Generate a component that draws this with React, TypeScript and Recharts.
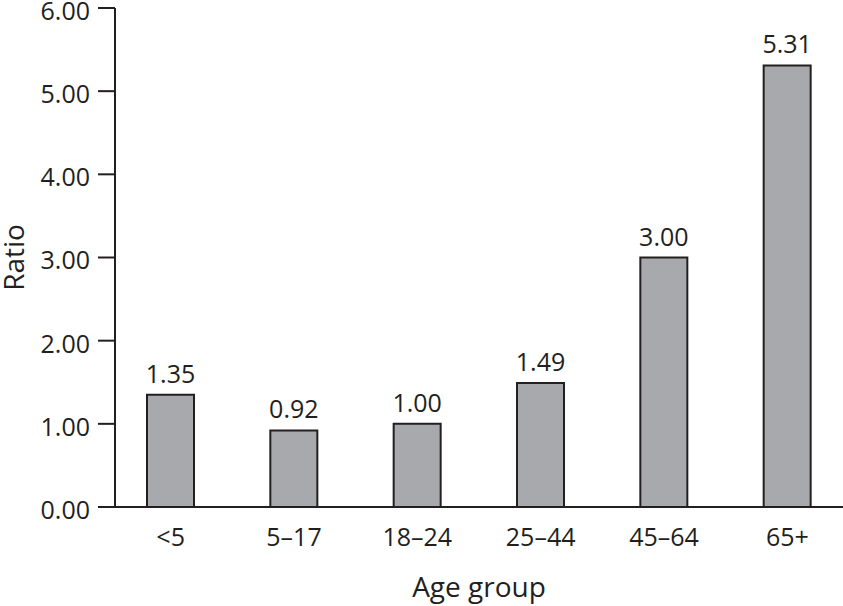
import React from 'react';
import { BarChart, Bar, XAxis, YAxis, LabelList } from 'recharts';

const ageGroups = ['<5', '5–17', '18–24', '25–44', '45–64', '65+'];
const ratios = [1.35, 0.92, 1.0, 1.49, 3.0, 5.31];
const yTicks = [0, 1, 2, 3, 4, 5, 6];

const data = ageGroups.map((group, i) => ({ group, ratio: ratios[i] }));

const ink = '#231f20';
const font = '"Open Sans", "Noto Sans", sans-serif';

const App: React.FC = () => {
    return (
        <div style={{ position: 'fixed', left: 0, top: 0, background: '#fff' }}>
            <BarChart
                width={843}
                height={606}
                data={data}
                margin={{ top: 8, right: 0, left: 0, bottom: 0 }}
                style={{ fontFamily: font }}
            >
                <XAxis
                    dataKey="group"
                    height={99}
                    padding={{ left: -6, right: -6 }}
                    axisLine={{ stroke: ink, strokeWidth: 2 }}
                    tickLine={false}
                    tickSize={0}
                    tickMargin={21}
                    tick={{ fill: ink, fontSize: 25, fontFamily: font }}
                    label={{ value: 'Age group', position: 'insideBottom', offset: 9, fill: ink, fontSize: 28, fontFamily: font }}
                />
                <YAxis
                    width={115}
                    domain={[0, 6]}
                    ticks={yTicks}
                    interval={0}
                    tickFormatter={(v: number) => v.toFixed(2)}
                    axisLine={{ stroke: ink, strokeWidth: 2 }}
                    tickLine={{ stroke: ink, strokeWidth: 2 }}
                    tickSize={17}
                    tickMargin={8}
                    tick={{ fill: ink, fontSize: 25, fontFamily: font, dy: 3 }}
                    label={{ value: 'Ratio', angle: -90, position: 'insideLeft', offset: 14, fill: ink, fontSize: 28, fontFamily: font, style: { textAnchor: 'middle' } }}
                />
                <Bar dataKey="ratio" barSize={47} fill="#a7a9ac" stroke={ink} strokeWidth={2} isAnimationActive={false}>
                    <LabelList
                        dataKey="ratio"
                        position="top"
                        offset={12}
                        formatter={(v: number) => v.toFixed(2)}
                        style={{ fill: ink, fontSize: 25, fontFamily: font }}
                    />
                </Bar>
            </BarChart>
        </div>
    );
};

export default App;
